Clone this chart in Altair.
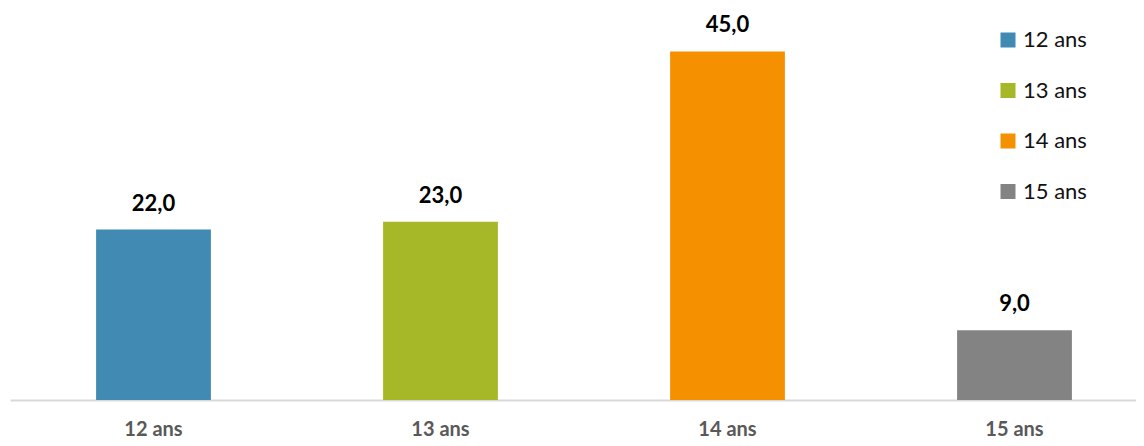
import altair as alt
import pandas as pd

categories = ["12 ans", "13 ans", "14 ans", "15 ans"]
values = [22.0, 23.0, 45.0, 9.0]
colors = ["#418AB3", "#A6B727", "#F59100", "#838383"]
labels = ["22,0", "23,0", "45,0", "9,0"]

df = pd.DataFrame({"age": categories, "value": values, "label": labels})

FONT = "Lato"

x = alt.X("age:N", sort=categories, title=None,
          scale=alt.Scale(range=[0, 1148], paddingInner=0.6, paddingOuter=0.3),
          axis=alt.Axis(labelAngle=0, labelFont=FONT, labelFontSize=20, labelFontWeight="bold",
                        labelColor="#595959", ticks=False, tickSize=0, labelPadding=19,
                        domainColor="#D9D9D9", domainWidth=2, grid=False))
y = alt.Y("value:Q", title=None, scale=alt.Scale(domain=[0, 50.6], nice=False),
          axis=None)

bars = alt.Chart(df).mark_bar().encode(
    x=x, y=y,
    color=alt.Color("age:N", sort=categories, title=None,
                    scale=alt.Scale(domain=categories, range=colors),
                    legend=alt.Legend(orient="none", legendX=987, legendY=21,
                                      symbolType="square", symbolSize=225,
                                      symbolStrokeWidth=0, symbolOpacity=1,
                                      labelFont=FONT, labelFontSize=22, labelColor="#111111",
                                      rowPadding=28.5, labelOffset=4)),
)

text = alt.Chart(df).mark_text(baseline="alphabetic", dy=-19, font=FONT, fontSize=22,
                               fontWeight="bold", color="#000000").encode(
    x=alt.X("age:N", sort=categories), y="value:Q", text="label:N")

chart = alt.layer(bars, text).properties(
    width=1126, height=392,
    background="white",
    autosize=alt.AutoSizeParams(type="none"),
    padding={"left": 2, "top": 0, "right": 0, "bottom": 38},
).configure_view(stroke=None)

chart.save("out.html", embed_options={"renderer": "svg", "actions": False})
